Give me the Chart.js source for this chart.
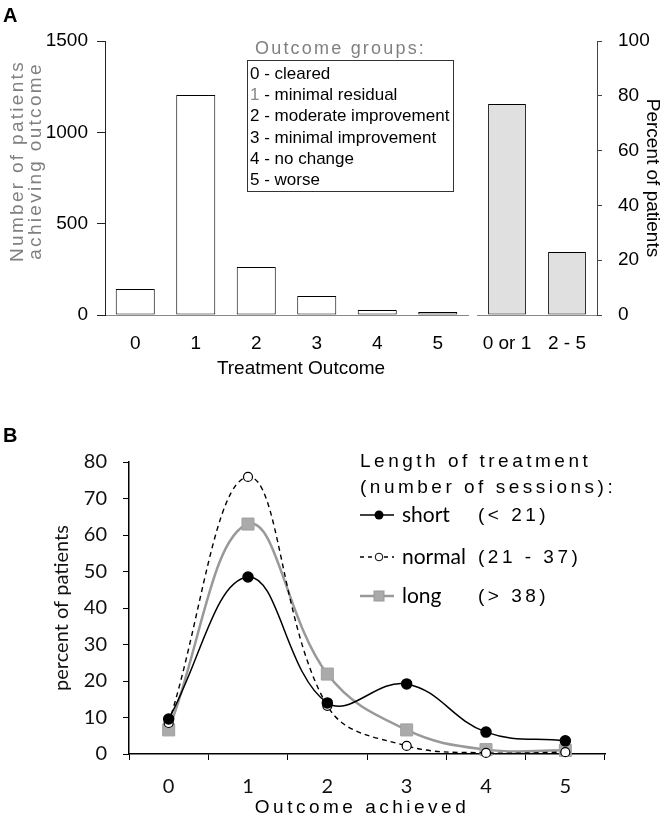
<!DOCTYPE html>
<html>
<head>
<meta charset="utf-8">
<script src="https://cdn.jsdelivr.net/npm/chart.js@4.4.1/dist/chart.umd.min.js"></script>
<style>
    body { margin: 0; background: #fff; }
    #wrap { position: relative; width: 668px; height: 817px; font-family: "Liberation Sans", Arial, sans-serif; color: #000; overflow: hidden; }
    canvas { position: absolute; }
    .txt { position: absolute; white-space: nowrap; }
    .panel { font-weight: bold; font-size: 20px; }
    .spaced { font-size: 19px; letter-spacing: 3.5px; line-height: 22px; }
    .word { font-family: Lato, sans-serif; font-size: 21px; line-height: 24px; }
    #groups { position: absolute; left: 247px; top: 60px; width: 207px; height: 132px; box-sizing: border-box; border: 1px solid #333; padding: 2px 0 0 2px; font-size: 17px; line-height: 21.2px; }
</style>
</head>
<body>
<div id="wrap">
    <canvas id="countChart" style="left:0;top:0" width="470" height="400"></canvas>
    <canvas id="groupChart" style="left:470px;top:0" width="198" height="400"></canvas>
    <canvas id="lengthChart" style="left:0;top:400px" width="668" height="417"></canvas>

    <div class="txt panel" style="left:3px;top:4px">A</div>
    <div class="txt" style="left:26px;top:161px;transform:translate(-50%,-50%) rotate(-90deg);text-align:center;font-size:19px;line-height:18px;letter-spacing:2.3px;color:#808080">Number of patients<br>achieving outcome</div>
    <div class="txt" style="left:255px;top:38px;font-size:18px;line-height:20px;letter-spacing:2.2px;color:#808080">Outcome groups:</div>
    <div id="groups"></div>
    <div class="txt" style="left:301px;top:368px;transform:translate(-50%,-50%);font-size:19px">Treatment Outcome</div>

    <div class="txt panel" style="left:3px;top:424px">B</div>
    <div class="txt spaced" style="left:360px;top:450px">Length of treatment</div>
    <div class="txt spaced" style="left:360px;top:476px">(number of sessions):</div>
    <div id="lengthLegend"></div>
    <div class="txt spaced" style="left:362px;top:807px;transform:translate(-50%,-50%)">Outcome achieved</div>
</div>

<script>
// panel A
const outcomeLabels = ['0', '1', '2', '3', '4', '5']
const patientCounts = [142, 1204, 263, 104, 27, 16]
const groupLabels = ['0 or 1', '2 - 5']
const groupPercents = [77, 23]
const outcomeGroups = ['0 - cleared', '1 - minimal residual', '2 - moderate improvement', '3 - minimal improvement', '4 - no change', '5 - worse']

// panel B
const achievedLabels = ['0', '1', '2', '3', '4', '5']
const shortPct = [9.6, 48.5, 14.0, 19.2, 6.0, 3.6]
const normalPct = [8.5, 75.9, 13.2, 2.2, 0.3, 0.5]
const longPct = [6.6, 63.0, 21.9, 6.6, 1.2, 1.0]
const lengthNames = ['short', 'normal', 'long']
const lengthRanges = ['(< 21)', '(21 - 37)', '(> 38)']

const arial = { family: '"Liberation Sans", Arial, sans-serif', size: 19 }
const lato = { family: 'Lato, sans-serif', size: 20 }
const plain = v => String(v)

document.getElementById('groups').innerHTML = outcomeGroups.map((g, i) =>
    i === 1 ? `<div><span style="color:#888">${g[0]}</span>${g.slice(1)}</div>` : `<div>${g}</div>`
).join('')

const samples = [
    '<line x1="0" y1="8" x2="34" y2="8" stroke="#000" stroke-width="1.5"/><circle cx="19" cy="8" r="4.5" fill="#000"/>',
    '<line x1="0" y1="8" x2="34" y2="8" stroke="#000" stroke-width="1.3" stroke-dasharray="4 4"/><circle cx="19" cy="8" r="3.8" fill="#fff" stroke="#000" stroke-width="1"/>',
    '<line x1="0" y1="8" x2="34" y2="8" stroke="#999" stroke-width="2.5"/><rect x="14" y="3" width="10" height="10" fill="#aaa" stroke="#999"/>'
]
const rowTops = [515, 557, 596]
let legendHtml = ''
lengthNames.forEach((name, i) => {
    const y = rowTops[i]
    legendHtml += `<svg class="txt" style="left:360px;top:${y - 8}px" width="34" height="16">${samples[i]}</svg>`
    legendHtml += `<div class="txt word" style="left:402px;top:${y - 13}px">${name}</div>`
    legendHtml += `<div class="txt spaced" style="left:478px;top:${y - 11}px">${lengthRanges[i]}</div>`
})
document.getElementById('lengthLegend').innerHTML = legendHtml

const common = {
    responsive: false,
    animation: false,
    events: [],
    plugins: { legend: { display: false }, tooltip: { enabled: false } }
}

new Chart(document.getElementById('countChart'), {
    type: 'bar',
    data: {
        labels: outcomeLabels,
        datasets: [{
            data: patientCounts,
            backgroundColor: '#fff',
            borderColor: '#000',
            borderWidth: 1,
            borderSkipped: false,
            barPercentage: 0.645,
            categoryPercentage: 1
        }]
    },
    options: {
        ...common,
        layout: { padding: { top: 41, right: 2, bottom: 35, left: 0 } },
        scales: {
            x: {
                grid: { display: false },
                border: { color: '#888' },
                ticks: { font: arial, color: '#000', padding: 9 },
                afterFit: s => { s.height = 50 }
            },
            y: {
                min: 0,
                max: 1500,
                ticks: { stepSize: 500, font: arial, color: '#000', padding: 9, callback: plain },
                grid: { drawOnChartArea: false, tickLength: 8, color: '#222' },
                border: { color: '#222' },
                afterFit: s => { s.width = 105 }
            }
        }
    }
})

new Chart(document.getElementById('groupChart'), {
    type: 'bar',
    data: {
        labels: groupLabels,
        datasets: [{
            data: groupPercents,
            backgroundColor: '#e0e0e0',
            borderColor: '#000',
            borderWidth: 1,
            borderSkipped: false,
            barPercentage: 0.63,
            categoryPercentage: 1
        }]
    },
    options: {
        ...common,
        layout: { padding: { top: 41, right: 0, bottom: 35, left: 7 } },
        scales: {
            x: {
                grid: { display: false },
                border: { color: '#888' },
                ticks: { font: arial, color: '#000', padding: 9 },
                afterFit: s => { s.height = 50 }
            },
            y: {
                position: 'right',
                min: 0,
                max: 100,
                ticks: { stepSize: 20, font: arial, color: '#000', padding: 16, callback: plain },
                grid: { drawOnChartArea: false, tickLength: 5, color: '#444' },
                border: { color: '#444' },
                title: { display: true, text: 'Percent of patients', font: arial, color: '#000', padding: { top: 4 } },
                afterFit: s => { s.width = 71 }
            }
        }
    }
})

new Chart(document.getElementById('lengthChart'), {
    type: 'line',
    data: {
        labels: achievedLabels,
        datasets: [{
            label: 'short',
            data: shortPct,
            borderColor: '#000',
            borderWidth: 1.5,
            pointRadius: 5,
            pointBackgroundColor: '#000',
            pointBorderColor: '#000',
            tension: 0.4,
            clip: false
        }, {
            label: 'normal',
            data: normalPct,
            borderColor: '#000',
            borderWidth: 1.4,
            borderDash: [5, 4],
            pointRadius: 4.5,
            pointBackgroundColor: '#fff',
            pointBorderColor: '#000',
            pointBorderWidth: 1.2,
            tension: 0.4,
            clip: false
        }, {
            label: 'long',
            data: longPct,
            borderColor: '#999',
            borderWidth: 2.5,
            pointStyle: 'rect',
            pointRadius: 8.5,
            pointBackgroundColor: '#aaa',
            pointBorderColor: '#a0a0a0',
            pointBorderWidth: 1,
            tension: 0.4,
            clip: false
        }]
    },
    options: {
        ...common,
        layout: { padding: { top: 62, right: 63, bottom: 0, left: 0 } },
        scales: {
            x: {
                offset: true,
                grid: { offset: true, drawOnChartArea: false, tickLength: 6, color: '#000' },
                border: { color: '#000', width: 1.5 },
                ticks: { font: lato, color: '#111', padding: 15 },
                afterFit: s => { s.height = 63 }
            },
            y: {
                min: 0,
                max: 80,
                ticks: { stepSize: 10, font: lato, color: '#111', padding: 16 },
                grid: { drawOnChartArea: false, tickLength: 6, color: '#000' },
                border: { color: '#000', width: 1.5 },
                title: { display: true, text: 'percent of patients', font: lato, color: '#111', padding: { top: 50 } },
                afterFit: s => { s.width = 129 }
            }
        }
    }
})
</script>
</body>
</html>
